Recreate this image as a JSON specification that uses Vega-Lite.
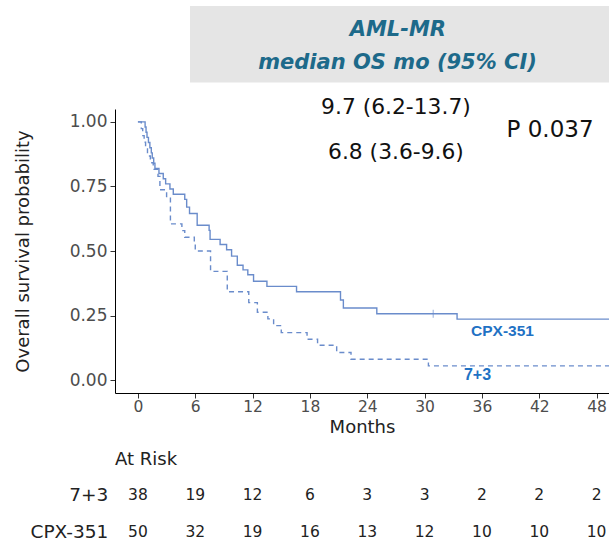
{
  "$schema": "https://vega.github.io/schema/vega-lite/v6.json",
  "width": 494,
  "height": 284,
  "autosize": {"type": "none"},
  "padding": {"left": 115, "top": 109, "right": 0, "bottom": 148},
  "background": "white",
  "config": {
    "view": {"stroke": null},
    "axis": {"grid": false, "domainColor": "#000000", "tickColor": "#333333", "labelColor": "#4d4d4d", "titleColor": "#222222", "labelFont": "DejaVu Sans", "titleFont": "DejaVu Sans", "titleFontWeight": "normal"}
  },
  "datasets": {
    "km": [
      {"group": "CPX-351", "t": 0, "s": 1.0},
      {"group": "CPX-351", "t": 0.75, "s": 0.98},
      {"group": "CPX-351", "t": 0.85, "s": 0.96},
      {"group": "CPX-351", "t": 0.95, "s": 0.94},
      {"group": "CPX-351", "t": 1.1, "s": 0.92},
      {"group": "CPX-351", "t": 1.25, "s": 0.9},
      {"group": "CPX-351", "t": 1.4, "s": 0.88},
      {"group": "CPX-351", "t": 1.5, "s": 0.86},
      {"group": "CPX-351", "t": 1.65, "s": 0.84},
      {"group": "CPX-351", "t": 1.78, "s": 0.82},
      {"group": "CPX-351", "t": 2.2, "s": 0.8},
      {"group": "CPX-351", "t": 2.65, "s": 0.78},
      {"group": "CPX-351", "t": 2.9, "s": 0.76},
      {"group": "CPX-351", "t": 3.35, "s": 0.74},
      {"group": "CPX-351", "t": 3.7, "s": 0.72},
      {"group": "CPX-351", "t": 4.9, "s": 0.7},
      {"group": "CPX-351", "t": 5.1, "s": 0.67},
      {"group": "CPX-351", "t": 5.4, "s": 0.645},
      {"group": "CPX-351", "t": 6.2, "s": 0.6},
      {"group": "CPX-351", "t": 7.45, "s": 0.58},
      {"group": "CPX-351", "t": 7.55, "s": 0.545},
      {"group": "CPX-351", "t": 8.6, "s": 0.525},
      {"group": "CPX-351", "t": 9.28, "s": 0.505},
      {"group": "CPX-351", "t": 9.8, "s": 0.48},
      {"group": "CPX-351", "t": 10.4, "s": 0.445},
      {"group": "CPX-351", "t": 11.0, "s": 0.427},
      {"group": "CPX-351", "t": 11.5, "s": 0.408},
      {"group": "CPX-351", "t": 12.1, "s": 0.383},
      {"group": "CPX-351", "t": 13.5, "s": 0.363},
      {"group": "CPX-351", "t": 16.6, "s": 0.342},
      {"group": "CPX-351", "t": 21.2, "s": 0.31},
      {"group": "CPX-351", "t": 21.5, "s": 0.279},
      {"group": "CPX-351", "t": 25.0, "s": 0.257},
      {"group": "CPX-351", "t": 33.4, "s": 0.236},
      {"group": "CPX-351", "t": 50, "s": 0.236},
      {"group": "7+3", "t": 0, "s": 1.0},
      {"group": "7+3", "t": 0.35, "s": 0.974},
      {"group": "7+3", "t": 0.5, "s": 0.947},
      {"group": "7+3", "t": 0.65, "s": 0.921},
      {"group": "7+3", "t": 0.8, "s": 0.895},
      {"group": "7+3", "t": 1.0, "s": 0.868},
      {"group": "7+3", "t": 1.3, "s": 0.842},
      {"group": "7+3", "t": 1.6, "s": 0.816},
      {"group": "7+3", "t": 2.1, "s": 0.789},
      {"group": "7+3", "t": 2.3, "s": 0.737},
      {"group": "7+3", "t": 3.0, "s": 0.711},
      {"group": "7+3", "t": 3.4, "s": 0.605},
      {"group": "7+3", "t": 4.6, "s": 0.579},
      {"group": "7+3", "t": 4.9, "s": 0.553},
      {"group": "7+3", "t": 5.9, "s": 0.526},
      {"group": "7+3", "t": 6.0, "s": 0.5},
      {"group": "7+3", "t": 7.6, "s": 0.421},
      {"group": "7+3", "t": 9.35, "s": 0.342},
      {"group": "7+3", "t": 11.6, "s": 0.3},
      {"group": "7+3", "t": 12.5, "s": 0.263},
      {"group": "7+3", "t": 13.6, "s": 0.237},
      {"group": "7+3", "t": 14.2, "s": 0.211},
      {"group": "7+3", "t": 15.0, "s": 0.184},
      {"group": "7+3", "t": 17.7, "s": 0.158},
      {"group": "7+3", "t": 18.8, "s": 0.135},
      {"group": "7+3", "t": 20.8, "s": 0.107},
      {"group": "7+3", "t": 22.3, "s": 0.081},
      {"group": "7+3", "t": 30.4, "s": 0.055},
      {"group": "7+3", "t": 50, "s": 0.055}
    ],
    "censor": [
      {"group": "CPX-351", "t": 30.9, "s": 0.257}
    ],
    "risk": [
      {"group": "7+3", "t": 0, "n": 38}, {"group": "7+3", "t": 6, "n": 19}, {"group": "7+3", "t": 12, "n": 12},
      {"group": "7+3", "t": 18, "n": 6}, {"group": "7+3", "t": 24, "n": 3}, {"group": "7+3", "t": 30, "n": 3},
      {"group": "7+3", "t": 36, "n": 2}, {"group": "7+3", "t": 42, "n": 2}, {"group": "7+3", "t": 48, "n": 2},
      {"group": "CPX-351", "t": 0, "n": 50}, {"group": "CPX-351", "t": 6, "n": 32}, {"group": "CPX-351", "t": 12, "n": 19},
      {"group": "CPX-351", "t": 18, "n": 16}, {"group": "CPX-351", "t": 24, "n": 13}, {"group": "CPX-351", "t": 30, "n": 12},
      {"group": "CPX-351", "t": 36, "n": 10}, {"group": "CPX-351", "t": 42, "n": 10}, {"group": "CPX-351", "t": 48, "n": 10}
    ]
  },
  "layer": [
    {
      "data": {"values": [{}]},
      "mark": {"type": "rect", "color": "#e5e5e5", "clip": false},
      "encoding": {
        "x": {"datum": 5.45, "type": "quantitative"},
        "x2": {"datum": 52},
        "y": {"datum": 1.449, "type": "quantitative"},
        "y2": {"datum": 1.1525}
      }
    },
    {
      "data": {"name": "km"},
      "mark": {"type": "line", "interpolate": "step-after", "strokeWidth": 1.4, "color": "#6a8ccb"},
      "encoding": {
        "x": {"field": "t", "type": "quantitative", "scale": {"domain": [-2.4, 49.3], "nice": false, "zero": false},
          "axis": {"values": [0, 6, 12, 18, 24, 30, 36, 42, 48], "title": "Months", "labelFontSize": 15.5, "titleFontSize": 18, "tickSize": 5, "labelPadding": 1, "titlePadding": 4, "labelFlush": false}},
        "y": {"field": "s", "type": "quantitative", "scale": {"domain": [-0.05, 1.05], "nice": false, "zero": false},
          "axis": {"values": [0, 0.25, 0.5, 0.75, 1], "format": ".2f", "title": "Overall survival probability", "labelFontSize": 17, "titleFontSize": 18, "tickSize": 5, "labelPadding": 3, "titlePadding": 37}},
        "strokeDash": {"field": "group", "type": "nominal", "scale": {"domain": ["CPX-351", "7+3"], "range": [[1, 0], [5, 4]]}, "legend": null},
        "detail": {"field": "group"}
      }
    },
    {
      "data": {"name": "censor"},
      "mark": {"type": "tick", "orient": "vertical", "size": 8, "thickness": 1, "color": "#6a8ccb"},
      "encoding": {
        "x": {"field": "t", "type": "quantitative"},
        "y": {"field": "s", "type": "quantitative"}
      }
    },
    {
      "data": {"values": [{}]},
      "mark": {"type": "text", "text": "CPX-351", "font": "Liberation Sans", "fontSize": 15.5, "fontWeight": "bold", "color": "#1f72c4", "align": "center", "baseline": "middle"},
      "encoding": {"x": {"datum": 38.15, "type": "quantitative"}, "y": {"datum": 0.191, "type": "quantitative"}}
    },
    {
      "data": {"values": [{}]},
      "mark": {"type": "text", "text": "7+3", "font": "Liberation Sans", "fontSize": 16, "fontWeight": "bold", "color": "#1f72c4", "align": "center", "baseline": "middle"},
      "encoding": {"x": {"datum": 35.54, "type": "quantitative"}, "y": {"datum": 0.02, "type": "quantitative"}}
    },
    {
      "data": {"values": [{}]},
      "mark": {"type": "text", "text": "AML-MR", "font": "DejaVu Sans", "fontSize": 21, "fontWeight": "bold", "fontStyle": "italic", "color": "#1d6a8a", "align": "center", "baseline": "middle"},
      "encoding": {"x": {"datum": 27.2, "type": "quantitative"}, "y": {"datum": 1.356, "type": "quantitative"}}
    },
    {
      "data": {"values": [{}]},
      "mark": {"type": "text", "text": "median OS mo (95% CI)", "font": "DejaVu Sans", "fontSize": 21, "fontWeight": "bold", "fontStyle": "italic", "color": "#1d6a8a", "align": "center", "baseline": "middle"},
      "encoding": {"x": {"datum": 27.17, "type": "quantitative"}, "y": {"datum": 1.227, "type": "quantitative"}}
    },
    {
      "data": {"values": [{}]},
      "mark": {"type": "text", "text": "9.7 (6.2-13.7)", "font": "DejaVu Sans", "fontSize": 21.8, "color": "#111111", "align": "center", "baseline": "middle"},
      "encoding": {"x": {"datum": 27.0, "type": "quantitative"}, "y": {"datum": 1.059, "type": "quantitative"}}
    },
    {
      "data": {"values": [{}]},
      "mark": {"type": "text", "text": "6.8 (3.6-9.6)", "font": "DejaVu Sans", "fontSize": 21.8, "color": "#111111", "align": "center", "baseline": "middle"},
      "encoding": {"x": {"datum": 27.0, "type": "quantitative"}, "y": {"datum": 0.8846, "type": "quantitative"}}
    },
    {
      "data": {"values": [{}]},
      "mark": {"type": "text", "text": "P 0.037", "font": "DejaVu Sans", "fontSize": 23, "color": "#111111", "align": "center", "baseline": "middle"},
      "encoding": {"x": {"datum": 43.13, "type": "quantitative"}, "y": {"datum": 0.9687, "type": "quantitative"}}
    },
    {
      "data": {"values": [{}]},
      "mark": {"type": "text", "text": "At Risk", "font": "DejaVu Sans", "fontSize": 18, "color": "#222222", "align": "left", "baseline": "middle"},
      "encoding": {"x": {"datum": -2.4, "type": "quantitative"}, "y": {"datum": -0.3094, "type": "quantitative"}}
    },
    {
      "data": {"values": [{}]},
      "mark": {"type": "text", "text": "7+3", "font": "DejaVu Sans", "fontSize": 18.5, "color": "#222222", "align": "right", "baseline": "middle"},
      "encoding": {"x": {"datum": -3.1, "type": "quantitative"}, "y": {"datum": -0.445, "type": "quantitative"}}
    },
    {
      "data": {"values": [{}]},
      "mark": {"type": "text", "text": "CPX-351", "font": "DejaVu Sans", "fontSize": 18.5, "color": "#222222", "align": "right", "baseline": "middle"},
      "encoding": {"x": {"datum": -3.1, "type": "quantitative"}, "y": {"datum": -0.587, "type": "quantitative"}}
    },
    {
      "data": {"name": "risk"},
      "transform": [{"filter": "datum.group === '7+3'"}],
      "mark": {"type": "text", "font": "DejaVu Sans", "fontSize": 15.5, "color": "#222222", "align": "center", "baseline": "middle"},
      "encoding": {"x": {"field": "t", "type": "quantitative"}, "y": {"datum": -0.445, "type": "quantitative"}, "text": {"field": "n"}}
    },
    {
      "data": {"name": "risk"},
      "transform": [{"filter": "datum.group === 'CPX-351'"}],
      "mark": {"type": "text", "font": "DejaVu Sans", "fontSize": 15.5, "color": "#222222", "align": "center", "baseline": "middle"},
      "encoding": {"x": {"field": "t", "type": "quantitative"}, "y": {"datum": -0.587, "type": "quantitative"}, "text": {"field": "n"}}
    }
  ]
}
